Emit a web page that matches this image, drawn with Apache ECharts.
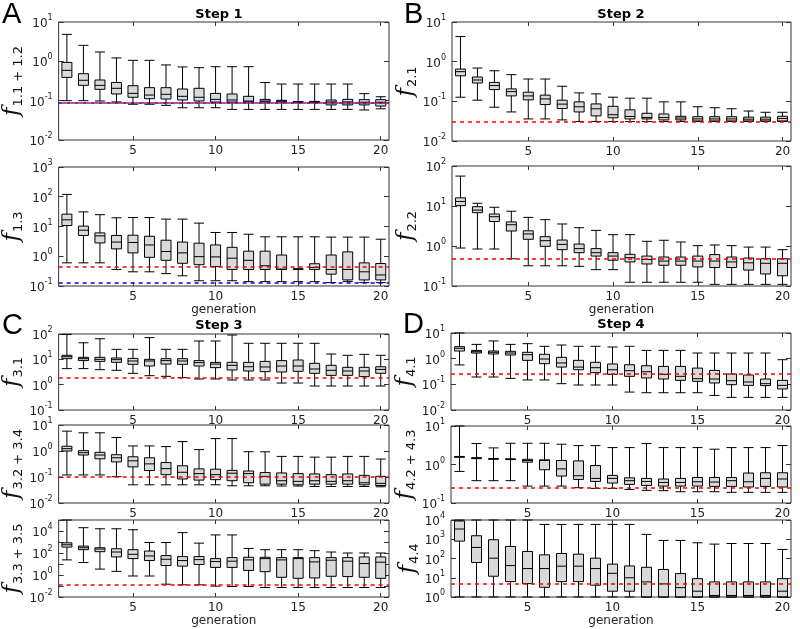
<!DOCTYPE html>
<html><head><meta charset="utf-8">
<script src="https://cdn.jsdelivr.net/npm/echarts@6/dist/echarts.min.js"></script>
<style>html,body{margin:0;padding:0;background:#fff}#c{width:800px;height:629px}</style>
</head><body><div id="c"></div>
<script>
// x categories
const generations = ['1','2','3','4','5','6','7','8','9','10','11','12','13','14','15','16','17','18','19','20'];
const xTickLabels = ['5','10','15','20'];

// each row: [min, q1, median, q3, max]
const f11_12 = [
[0.10,0.39,0.59,0.94,4.85],[0.10,0.245,0.33,0.485,2.55],[0.098,0.194,0.245,0.335,1.73],[0.093,0.148,0.206,0.29,1.22],
[0.081,0.122,0.153,0.24,1.06],[0.081,0.112,0.139,0.214,1.06],[0.076,0.11,0.145,0.214,0.81],[0.066,0.104,0.129,0.198,0.72],
[0.066,0.098,0.122,0.206,0.69],[0.066,0.092,0.108,0.153,0.73],[0.06,0.092,0.104,0.148,0.73],[0.06,0.093,0.098,0.129,0.73],
[0.06,0.093,0.098,0.108,0.29],[0.06,0.093,0.098,0.102,0.265],[0.06,0.092,0.093,0.095,0.265],[0.06,0.091,0.093,0.096,0.265],
[0.06,0.078,0.093,0.104,0.265],[0.06,0.078,0.093,0.108,0.265],[0.058,0.078,0.091,0.106,0.151],[0.062,0.073,0.091,0.106,0.126]];
const f13 = [
[0.6,10.8,16.8,26,120],[0.6,5,7.5,10.3,31],[0.6,2.8,4.85,6.1,25],[0.36,1.77,3,5,19.6],
[0.3,1.3,2.9,5.1,20],[0.3,0.92,2.4,4.7,20],[0.26,0.73,1.44,3.46,17.7],[0.22,0.58,1.3,3,17.7],
[0.15,0.52,0.97,2.75,13],[0.15,0.45,0.95,2.4,6.3],[0.15,0.36,0.86,2.0,6.3],[0.14,0.36,0.73,1.48,5.5],
[0.14,0.36,0.48,1.48,4.5],[0.14,0.36,0.37,1.1,4.5],[0.14,0.36,0.37,0.38,4.5],[0.14,0.36,0.42,0.56,4.5],
[0.13,0.25,0.36,1.1,4.4],[0.14,0.16,0.36,1.4,4.4],[0.13,0.16,0.3,0.6,4.4],[0.13,0.16,0.235,0.57,3.74]];
const f21 = [
[0.127,0.44,0.56,0.65,4.3],[0.107,0.29,0.345,0.41,0.69],[0.071,0.198,0.25,0.30,0.59],[0.054,0.137,0.176,0.206,0.47],
[0.036,0.109,0.137,0.17,0.365],[0.036,0.083,0.115,0.143,0.365],[0.034,0.066,0.085,0.107,0.24],[0.031,0.054,0.073,0.097,0.163],
[0.031,0.043,0.065,0.086,0.154],[0.031,0.0385,0.046,0.075,0.127],[0.031,0.036,0.0416,0.061,0.12],[0.031,0.036,0.039,0.05,0.12],
[0.031,0.034,0.039,0.048,0.097],[0.031,0.034,0.038,0.042,0.097],[0.031,0.032,0.036,0.041,0.073],[0.031,0.032,0.036,0.041,0.069],
[0.031,0.032,0.036,0.041,0.065],[0.031,0.032,0.0355,0.04,0.057],[0.031,0.032,0.0355,0.04,0.053],[0.031,0.032,0.037,0.042,0.053]];
const f22 = [
[0.89,10.2,13,16,56],[0.84,6.8,7.9,9.6,11.7],[0.84,4.1,5.4,6.3,9.3],[0.48,2.37,3.4,4,7.4],
[0.32,1.47,2.0,2.4,5.2],[0.32,0.98,1.36,1.71,4.55],[0.32,0.81,1.1,1.41,3.55],[0.31,0.68,0.86,1.12,2.87],
[0.256,0.56,0.68,0.86,2.46],[0.256,0.44,0.56,0.68,1.92],[0.124,0.4,0.51,0.62,1.92],[0.124,0.355,0.46,0.56,1.31],
[0.124,0.33,0.42,0.53,1.39],[0.124,0.33,0.42,0.53,1.26],[0.124,0.30,0.42,0.56,1.02],[0.11,0.29,0.42,0.61,1.06],
[0.11,0.29,0.4,0.53,1.02],[0.11,0.25,0.38,0.5,0.94],[0.11,0.2,0.37,0.48,0.94],[0.11,0.18,0.37,0.48,0.81]];
const f31 = [
[4.3,10.6,12.7,14.4,97],[4.3,8.9,10.6,12,45],[3.9,8.3,10,12,65],[3.7,7.6,9.7,11.3,24.8],
[2.8,6.35,8.6,10.9,24.8],[2.26,5.45,8.6,10,72],[2.13,6.5,8.9,10.6,24.8],[1.89,6.35,8.6,10.6,24.8],
[1.67,5.45,7.4,8.9,53],[1.67,4.7,6.5,7.6,53],[1.53,3.8,5.8,7.6,91],[1.53,3.46,5.1,7.6,43],
[1.53,3.26,5,8.3,43],[1.16,3.16,5.45,8.9,43],[1.16,3.36,5.45,9.4,43],[0.885,2.8,4.15,6.95,43],
[0.885,2.33,3.68,5.8,16.2],[0.885,2.33,3.46,4.83,14.4],[0.885,2.07,3.46,4.83,15.7],[0.885,2.8,4.0,5.1,14.4]];
const f32_34 = [
[0.12,1.0,1.23,1.52,5.8],[0.12,0.7,0.86,1.03,5.0],[0.12,0.5,0.7,0.89,5.0],[0.103,0.38,0.55,0.72,3.3],
[0.05,0.245,0.42,0.6,1.57],[0.05,0.177,0.32,0.55,1.57],[0.05,0.123,0.21,0.36,1.48],[0.05,0.084,0.152,0.27,2.3],
[0.05,0.076,0.135,0.205,1.13],[0.05,0.079,0.123,0.2,3.0],[0.046,0.072,0.14,0.18,3.0],[0.046,0.06,0.135,0.17,0.94],
[0.046,0.053,0.106,0.148,0.93],[0.045,0.053,0.072,0.143,0.62],[0.045,0.05,0.068,0.135,0.62],[0.043,0.053,0.072,0.131,0.58],
[0.043,0.053,0.068,0.123,0.58],[0.043,0.053,0.072,0.131,0.62],[0.043,0.05,0.06,0.116,0.62],[0.042,0.047,0.057,0.106,0.49]];
const f33_35 = [
[23.6,345,557,840,100000],[13.6,200,300,424,20000],[3.44,132,228,300,16000],[2.13,44,123,244,16000],
[0.81,31,76,200,13000],[0.81,20.6,54,151,900],[0.146,7.3,27,58,900],[0.127,6.4,20.6,47,7100],
[0.127,9,25,47,790],[0.097,4.9,16.7,31,4400],[0.09,4.9,18,38,4400],[0.09,2.6,23.6,41,260],
[0.073,2.0,31,41,200],[0.073,0.62,23.6,38,200],[0.073,0.5,31,38,200],[0.073,0.54,15.6,38,162],
[0.073,0.76,22,38,123],[0.073,0.72,18,38,100],[0.073,0.62,11,44,100],[0.073,0.5,14.6,44,100]];
const f41 = [
[0.57,1.99,2.53,2.94,10],[0.193,1.66,1.87,2.1,3.6],[0.193,1.52,1.77,1.99,4.9],[0.171,1.39,1.66,1.93,3.6],
[0.148,0.86,1.43,1.77,3.84],[0.148,0.64,0.97,1.48,3.03],[0.106,0.47,0.68,1.13,3.4],[0.094,0.37,0.47,0.86,3.03],
[0.094,0.285,0.445,0.72,3.03],[0.094,0.245,0.37,0.62,2.85],[0.05,0.205,0.34,0.58,3.03],[0.047,0.177,0.31,0.53,2.1],
[0.047,0.161,0.245,0.5,2.1],[0.047,0.143,0.205,0.5,2.1],[0.047,0.131,0.166,0.43,1.66],[0.037,0.113,0.161,0.35,1.66],
[0.031,0.097,0.139,0.253,1.66],[0.031,0.091,0.123,0.231,1.66],[0.031,0.089,0.106,0.161,1.66],[0.031,0.066,0.091,0.143,0.91]];
const f42_43 = [
[0.66,1.54,1.58,1.62,10],[0.38,1.42,1.46,1.5,3.5],[0.38,1.37,1.40,1.43,2.7],[0.38,1.34,1.37,1.40,3.56],
[0.275,1.15,1.27,1.37,3.56],[0.275,0.73,1.27,1.32,3.56],[0.275,0.5,0.77,1.27,3.36],[0.25,0.41,0.51,1.24,3.1],
[0.24,0.363,0.435,0.94,3.1],[0.24,0.33,0.435,0.52,2.75],[0.225,0.304,0.38,0.45,2.75],[0.213,0.286,0.363,0.435,3.5],
[0.209,0.275,0.342,0.42,2.75],[0.196,0.275,0.342,0.435,2.75],[0.196,0.275,0.356,0.46,2.75],[0.196,0.27,0.35,0.46,2.5],
[0.189,0.27,0.38,0.46,2.75],[0.189,0.26,0.356,0.6,2.75],[0.189,0.27,0.435,0.61,2.75],[0.189,0.26,0.42,0.61,3.1]];
const f44 = [
[1,800,3400,8900,10000],[1,62,375,1520,10000],[1,12,104,942,10000],[1,6.3,43,423,10000],
[1,4.97,30,232,10000],[1,3.2,30,155,5900],[1,6.3,40,182,5900],[1,6.3,40,168,5900],
[1,4.1,30,104,5900],[1,2.0,17,51,5900],[1,2.0,10,41,5900],[1,1,6.1,35,1790],
[1,1,4.8,27,870],[1,1,3.07,16.5,870],[1,1,2.0,9,656],[1,1,1.2,6.1,560],
[1,1,1.2,6.1,600],[1,1,1.2,6.1,600],[1,1,1.2,6.1,600],[1,1,2.0,9,295]];

// reference (target) lines
const refA1 = {blue: 0.093, red: 0.093};
const refA2 = {blue: 0.133, red: 0.43};
const refB1 = {red: 0.03};
const refB2 = {red: 0.48};
const refC1 = {red: 1.83};
const refC2 = {red: 0.105};
const refC3 = {red: 0.12};
const refD1 = {red: 0.27};
const refD2 = {red: 0.25};
const refD3 = {red: 5};

// y-axis ranges (powers of ten)
const yRanges = [[1e-2,1e1],[1e-1,1e3],[1e-2,1e1],[1e-1,1e2],[1e-1,1e2],[1e-2,1e1],[1e-2,1e5],[1e-2,1e1],[1e-1,1e1],[1e0,1e4]];
const yNames = ['1.1 + 1.2','1.3','2.1','2.2','3.1','3.2 + 3.4','3.3 + 3.5','4.1','4.2 + 4.3','4.4'];

const panels = [
 {data:f11_12, ref:refA1, rect:[49,22,340,118], gen:false},
 {data:f13,    ref:refA2, rect:[49,167,340,119], gen:true},
 {data:f21,    ref:refB1, rect:[452,22,339,119], gen:false},
 {data:f22,    ref:refB2, rect:[452,166,339,120], gen:true},
 {data:f31,    ref:refC1, rect:[49,334,340,76], gen:false},
 {data:f32_34, ref:refC2, rect:[49,425,340,78], gen:false},
 {data:f33_35, ref:refC3, rect:[49,520,340,77], gen:true, even:true},
 {data:f41,    ref:refD1, rect:[451,333,340,77], gen:false},
 {data:f42_43, ref:refD2, rect:[451,426,340,77], gen:false},
 {data:f44,    ref:refD3, rect:[451,520,340,77], gen:true}
];

const FONT = 'DejaVu Sans';
const showTick = (idx, val) => xTickLabels.indexOf(String(val)) >= 0;
const grid=[], xAxis=[], yAxis=[], series=[];
panels.forEach((p,i)=>{
  const [ymin,ymax] = yRanges[i];
  grid.push({left:p.rect[0], top:p.rect[1], width:p.rect[2], height:p.rect[3], show:true, borderColor:'#333', borderWidth:1, backgroundColor:'#fff', containLabel:false});
  const tick = {show:true, inside:true, length:4, alignWithLabel:true, interval:showTick, lineStyle:{color:'#333', width:1}};
  xAxis.push({gridIndex:i, type:'category', data:generations, boundaryGap:true,
    axisLine:{show:false}, axisTick:tick,
    axisLabel:{interval:showTick, fontSize:12, color:'#222', margin:5, fontFamily:FONT},
    name:p.gen?'generation':'', nameLocation:'middle', nameGap:16,
    nameTextStyle:{fontSize:12, color:'#222', fontFamily:FONT}});
  xAxis.push({gridIndex:i, type:'category', data:generations, boundaryGap:true, position:'top',
    axisLine:{show:false}, axisTick:tick, axisLabel:{show:false}});
  yAxis.push({gridIndex:i, type:'log', logBase:10, min:ymin, max:ymax,
    axisLine:{show:false}, splitLine:{show:false},
    axisTick:{show:true, inside:true, length:5, lineStyle:{color:'#333'}},
    axisLabel:{margin:6, formatter:(v)=>{const e=Math.round(Math.log10(v)); if(p.even && e%2!==0) return ''; return '{b|10}{s|'+e+'}';},
      rich:{b:{fontSize:12, fontFamily:FONT, color:'#222', lineHeight:16, verticalAlign:'bottom'},
            s:{fontSize:8, fontFamily:FONT, color:'#222', lineHeight:10, verticalAlign:'top'}}},
    name:'{f|f}{s|'+yNames[i]+'}', nameLocation:'middle', nameGap:22, nameRotate:90,
    nameTextStyle:{rich:{f:{fontFamily:'DejaVu Serif', fontStyle:'italic', fontSize:23, lineHeight:26, color:'#111', verticalAlign:'middle'},
                         s:{fontFamily:FONT, fontSize:13, lineHeight:14, color:'#111', verticalAlign:'bottom', padding:[0,0,0,1]}}}});
  yAxis.push({gridIndex:i, type:'log', logBase:10, min:ymin, max:ymax, position:'right',
    axisLine:{show:false}, splitLine:{show:false}, axisLabel:{show:false},
    axisTick:{show:true, inside:true, length:5, lineStyle:{color:'#333'}}});
  const ml = [];
  if (p.ref.blue !== undefined) ml.push({yAxis:p.ref.blue, lineStyle:{color:'#0000ff', type:[4,4], width:1.5, dashOffset:0}});
  if (p.ref.red !== undefined) ml.push({yAxis:p.ref.red, lineStyle:{color:'#ff0000', type:[4,4], width:1.5, dashOffset:(p.ref.blue!==undefined && p.ref.blue===p.ref.red)?4:0}});
  series.push({type:'boxplot', xAxisIndex:2*i, yAxisIndex:2*i, data:p.data, boxWidth:[10,10],
    itemStyle:{color:'#d9d9d9', borderColor:'#000', borderWidth:1},
    markLine:{silent:true, symbol:['none','none'], label:{show:false}, data:ml}});
});

const letter = (t,x,y)=>({type:'text', x:x, y:y, style:{text:t, fontSize:29, fontFamily:'Liberation Sans', fill:'#000'}});
const step = (t,x,y)=>({type:'text', x:x, y:y, style:{text:t, fontSize:13, fontWeight:'bold', fontFamily:FONT, fill:'#000', align:'center'}});

const chart = echarts.init(document.getElementById('c'), null, {renderer:'canvas'});
chart.setOption({
  animation:false, backgroundColor:'#fff',
  grid, xAxis, yAxis, series,
  graphic:[letter('A',2,0), letter('B',404,0), letter('C',2,311), letter('D',403,310),
           step('Step 1',219,8), step('Step 2',621,8), step('Step 3',219,319), step('Step 4',621,318)]
});
</script></body></html>
